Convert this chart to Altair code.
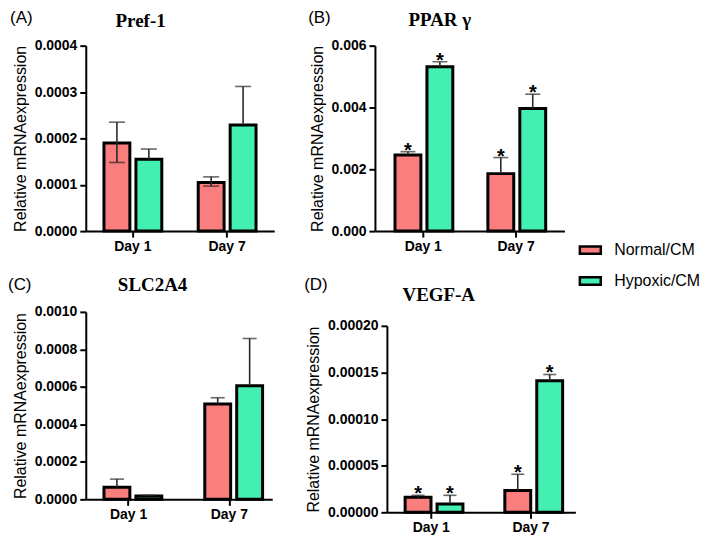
import altair as alt
import pandas as pd

days = ["Day 1", "Day 7"]
groups = ["Normal/CM", "Hypoxic/CM"]
colors = ["#FB7E7E", "#43EFB1"]

# order of values: Normal D1, Hypoxic D1, Normal D7, Hypoxic D7
pref1_mean = [0.000190, 0.000155, 0.000105, 0.000229]
pref1_upper = [0.000235, 0.000177, 0.000117, 0.000312]
pref1_lower = [0.000148, 0.000155, 0.000097, 0.000229]
pref1_star = ["", "", "", ""]

ppar_mean = [0.00246, 0.00532, 0.00186, 0.00397]
ppar_upper = [0.00257, 0.00548, 0.00238, 0.00443]
ppar_lower = [0.00246, 0.00532, 0.00186, 0.00397]
ppar_star = ["*", "*", "*", "*"]

slc_mean = [0.000064, 0.000018, 0.000508, 0.000606]
slc_upper = [0.000108, 0.000022, 0.000542, 0.000858]
slc_lower = [0.000064, 0.000018, 0.000508, 0.000606]
slc_star = ["", "", "", ""]

vegf_mean = [0.0000161, 0.0000089, 0.0000233, 0.000141]
vegf_upper = [0.0000182, 0.0000182, 0.0000408, 0.0001478]
vegf_lower = [0.0000161, 0.0000089, 0.0000233, 0.000141]
vegf_star = ["*", "*", "*", "*"]

day_col = [d for d in days for _ in groups]
group_col = [g for _ in days for g in groups]

SANS = "Liberation Sans"
SERIF = "Liberation Serif"
YTITLE = "Relative mRNAexpression"


def panel(mean, upper, lower, star, gene, letter, ymax, ystep, fmt, w, h,
          pi, po, pi2, po2, cap, lxy, gxy, top=0):
    df = pd.DataFrame({"day": day_col, "group": group_col, "mean": mean,
                       "upper": upper, "lower": lower, "star": star})
    n = int(round(ymax / ystep))
    ticks = [round(i * ystep, 8) for i in range(n + 1)]
    htot = h + top
    if top:
        yscale = alt.Scale(domain=[0, ymax], nice=False, zero=True, range=[htot, top])
    else:
        yscale = alt.Scale(domain=[0, ymax], nice=False, zero=True)
    yaxis = alt.Axis(values=ticks, format=fmt)
    xenc = alt.X("day:N", sort=days, title=None,
                 scale=alt.Scale(paddingInner=pi, paddingOuter=po),
                 axis=alt.Axis(labelAngle=0, labelPadding=2))
    xoff = alt.XOffset("group:N", sort=groups,
                       scale=alt.Scale(domain=groups, paddingInner=pi2, paddingOuter=po2))

    def Y(f):
        return alt.Y(f, title=YTITLE, scale=yscale, axis=yaxis)

    base = alt.Chart(df)
    bars = base.mark_bar(stroke="black", strokeWidth=3).encode(
        x=xenc, xOffset=xoff, y=Y("mean:Q"),
        fill=alt.Fill("group:N", sort=groups,
                      scale=alt.Scale(domain=groups, range=colors),
                      legend=alt.Legend(title=None)),
    )
    rules = base.mark_rule(color="#2a2a2a", strokeWidth=1.6).encode(
        x=xenc, xOffset=xoff, y=Y("lower:Q"), y2="upper:Q")
    caps = base.mark_tick(color="#2a2a2a", thickness=1.6, size=cap).encode(
        x=xenc, xOffset=xoff, y=Y("upper:Q"))
    lowcaps = base.transform_filter("datum.lower < datum.mean").mark_tick(
        color="#2a2a2a", thickness=1.6, size=cap).encode(
        x=xenc, xOffset=xoff, y=Y("lower:Q"))
    stars = base.mark_text(fontSize=20, fontWeight="bold", font=SANS,
                           baseline="alphabetic", dy=5, color="black").encode(
        x=xenc, xOffset=xoff, y=Y("upper:Q"), text="star:N")
    let = alt.Chart(pd.DataFrame({"t": [letter]})).mark_text(
        align="left", baseline="middle", fontSize=17, font=SANS, color="black").encode(
        x=alt.value(lxy[0]), y=alt.value(lxy[1]), text="t:N")
    gen = alt.Chart(pd.DataFrame({"t": [gene]})).mark_text(
        align="center", baseline="middle", fontSize=19, font=SERIF,
        fontWeight="bold", color="black").encode(
        x=alt.value(gxy[0]), y=alt.value(gxy[1]), text="t:N")
    return alt.layer(bars, rules, caps, lowcaps, stars, let, gen).properties(width=w, height=htot)


pA = panel(pref1_mean, pref1_upper, pref1_lower, pref1_star, "Pref-1", "(A)",
           0.0004, 0.0001, ".4f", 189, 186, 0.0, 0.0, 0.19, 0.57, 16, (-76, -28), (55, -25))
pB = panel(ppar_mean, ppar_upper, ppar_lower, ppar_star, "PPAR γ", "(B)",
           0.006, 0.002, ".3f", 190, 186, 0.0, 0.02, 0.19, 0.57, 15, (-67, -28), (65, -26))
pC = panel(slc_mean, slc_upper, slc_lower, slc_star, "SLC2A4", "(C)",
           0.001, 0.0002, ".4f", 187, 188, 0.15, 0.0, 0.4, 0.18, 14, (-78, -27), (67, -27))
pD = panel(vegf_mean, vegf_upper, vegf_lower, vegf_star, "VEGF-A", "(D)",
           0.0002, 0.00005, ".5f", 189, 187, 0.11, 0.0, 0.44, 0.41, 13, (-83, -27), (52, -17),
           top=14)

row1 = alt.hconcat(pA, pB, spacing=34)
row2 = alt.hconcat(pC, pD, spacing=32)

chart = alt.vconcat(row1, row2, spacing=23).properties(padding=0).configure_view(
    stroke=None
).configure_axis(
    grid=False, domainColor="black", domainWidth=2, tickColor="black", tickWidth=2,
    tickSize=6, labelPadding=3, labelFont=SANS, labelFontWeight="bold", labelFontSize=14,
    labelColor="black", titleFont=SANS, titleFontWeight="normal", titleFontSize=16,
    titleColor="black", titlePadding=6
).configure_legend(
    orient="none", legendX=494, legendY=193,
    symbolType="M-1,-0.35H1V0.35H-1Z", symbolSize=441,
    symbolStrokeColor="black", symbolStrokeWidth=2.5,
    labelFont=SANS, labelFontSize=16, labelColor="black", labelOffset=12,
    rowPadding=10
)

chart.save("out.html", embed_options={"renderer": "svg", "actions": False})
